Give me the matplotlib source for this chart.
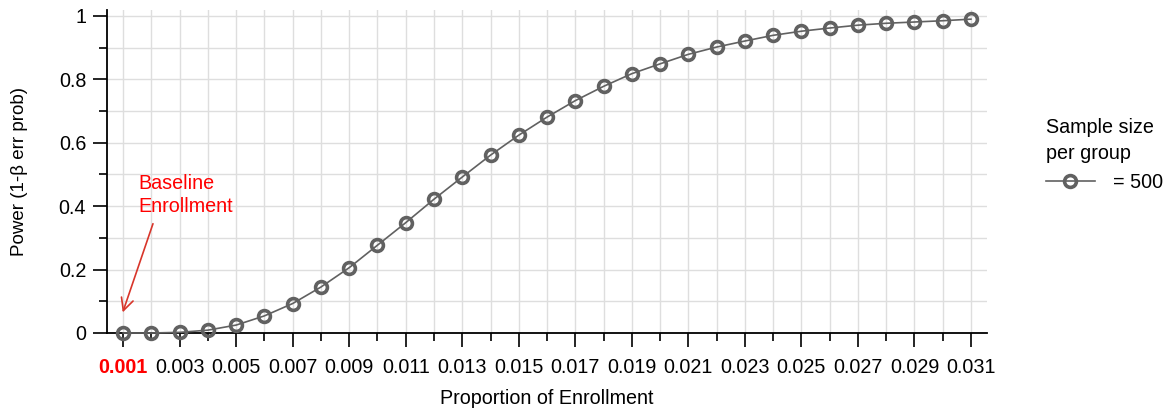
import matplotlib
matplotlib.use("Agg")
import matplotlib.pyplot as plt
from matplotlib.ticker import MultipleLocator
from matplotlib.lines import Line2D

plt.rcParams['font.family'] = ['Liberation Sans', 'DejaVu Sans']

# proportion of enrollment vs power, n = 500 per group
proportion = [0.001, 0.002, 0.003, 0.004, 0.005, 0.006, 0.007, 0.008, 0.009, 0.010,
              0.011, 0.012, 0.013, 0.014, 0.015, 0.016, 0.017, 0.018, 0.019, 0.020,
              0.021, 0.022, 0.023, 0.024, 0.025, 0.026, 0.027, 0.028, 0.029, 0.030,
              0.031]
power = [0.000, 0.000, 0.002, 0.009, 0.025, 0.054, 0.093, 0.145, 0.206, 0.277,
         0.348, 0.422, 0.492, 0.561, 0.624, 0.681, 0.733, 0.778, 0.818, 0.849,
         0.879, 0.902, 0.921, 0.939, 0.952, 0.962, 0.971, 0.977, 0.981, 0.985,
         0.990]
xtick_values = [0.001 + 0.002 * i for i in range(16)]
xtick_labels = ['%.3f' % v for v in xtick_values]
ytick_values = [0, 0.2, 0.4, 0.6, 0.8, 1]
ytick_labels = ['0', '0.2', '0.4', '0.6', '0.8', '1']

line_color = '#616161'
fs = 14.2

fig = plt.figure(figsize=(11.71, 4.15), dpi=100)
ax = fig.add_axes([0.0914, 0.1976, 0.7515, 0.7784])

ax.plot(proportion, power, color=line_color, lw=1.2, marker='o', ms=8.5,
        mfc='none', mec=line_color, mew=2.6, zorder=3, clip_on=False)

ax.set_xlim(0.00043, 0.03157)
ax.set_ylim(0, 1.019)

ax.set_xticks(xtick_values)
ax.set_xticklabels(xtick_labels)
ax.xaxis.set_minor_locator(MultipleLocator(0.001))
ax.set_yticks(ytick_values)
ax.set_yticklabels(ytick_labels)
ax.yaxis.set_minor_locator(MultipleLocator(0.1))

ax.tick_params(axis='x', which='major', length=10, width=1.2, labelsize=fs, pad=8, colors='black')
ax.tick_params(axis='x', which='minor', length=6, width=1.2)
ax.tick_params(axis='y', which='major', length=10, width=1.2, labelsize=fs, pad=5)
ax.tick_params(axis='y', which='minor', length=6, width=1.2)

first = ax.get_xticklabels()[0]
first.set_color('#ff0000')
first.set_fontweight('bold')

ax.grid(True, which='both', color='#dedede', lw=1)
ax.set_axisbelow(True)
for s in ['top', 'right']:
    ax.spines[s].set_visible(False)
for s in ['left', 'bottom']:
    ax.spines[s].set_linewidth(1.3)

ax.set_xlabel('Proportion of Enrollment', fontsize=fs, labelpad=9)
ax.set_ylabel('Power (1-β err prob)', fontsize=13.5, labelpad=22)

# annotation for the baseline
ax.annotate('Baseline\nEnrollment', xy=(0.000985, 0.065), xytext=(0.00155, 0.37),
            color='#ff0000', fontsize=fs, ha='left', va='bottom', linespacing=1.25,
            arrowprops=dict(arrowstyle='->', color='#d8352a', lw=1.2,
                            shrinkA=4, shrinkB=0, mutation_scale=22,
                            relpos=(0.18, 0)))

handle = Line2D([], [], color=line_color, lw=1.2, marker='o', ms=8.5,
                mfc='none', mec=line_color, mew=2.6)
leg = fig.legend([handle], ['= 500'], title='Sample size\nper group',
                 loc='center left', bbox_to_anchor=(0.893, 0.627),
                 frameon=False, fontsize=fs, title_fontsize=fs,
                 handlelength=2.5, handletextpad=0.9, borderpad=0,
                 borderaxespad=0)
leg._legend_box.align = 'left'
leg.get_title().set_linespacing(1.5)

fig.savefig('out.png', dpi=100)
